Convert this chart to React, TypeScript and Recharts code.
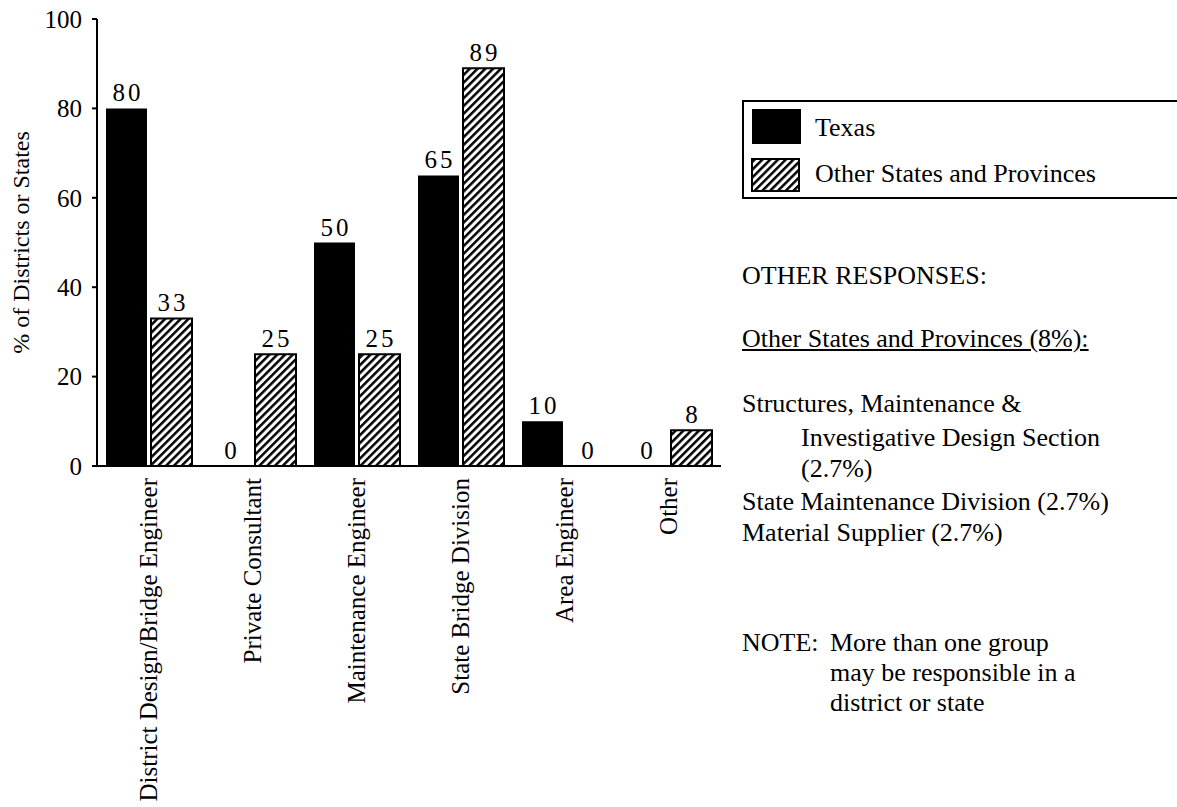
import React from "react";
import { BarChart, Bar, XAxis, YAxis, LabelList } from "recharts";

const categories = [
  "District Design/Bridge Engineer",
  "Private Consultant",
  "Maintenance Engineer",
  "State Bridge Division",
  "Area Engineer",
  "Other",
];
const texas = [80, 0, 50, 65, 10, 0];
const otherStates = [33, 25, 25, 89, 0, 8];
const yTicks = [0, 20, 40, 60, 80, 100];

const seriesNames = ["Texas", "Other States and Provinces"];
const otherResponses = [
  "Structures, Maintenance &",
  "Investigative Design Section",
  "(2.7%)",
  "State Maintenance Division (2.7%)",
  "Material Supplier (2.7%)",
];
const noteLines = ["More than one group", "may be responsible in a", "district or state"];

const serif = '"Liberation Serif", "Times New Roman", serif';

const data = categories.map((name, i) => ({
  name,
  texas: texas[i],
  other: otherStates[i],
}));

function CategoryTick(props: any) {
  const { x, y, payload } = props;
  const ty = y + 4;
  return (
    <text
      x={x}
      y={ty}
      transform={`rotate(-90, ${x}, ${ty})`}
      textAnchor="end"
      dy="0.33em"
      fontFamily={serif}
      fontSize={25}
      fill="#000"
    >
      {payload.value}
    </text>
  );
}

function ValueLabel(props: any) {
  const { x, y, width, height, value } = props;
  const top = Math.min(y, y + (height || 0));
  return (
    <text
      x={x + width / 2 + 1.5}
      y={top - 7}
      textAnchor="middle"
      fontFamily={serif}
      fontSize={25}
      letterSpacing={3}
      fill="#000"
    >
      {value}
    </text>
  );
}

function YTitle(props: any) {
  const { viewBox } = props;
  const cx = viewBox.x + 21;
  const cy = viewBox.y + viewBox.height / 2;
  return (
    <text
      x={cx}
      y={cy}
      transform={`rotate(-90, ${cx}, ${cy})`}
      textAnchor="middle"
      dy="0.35em"
      fontFamily={serif}
      fontSize={24}
      fill="#000"
    >
      % of Districts or States
    </text>
  );
}

function Hatch({ id }: { id: string }) {
  return (
    <pattern id={id} patternUnits="userSpaceOnUse" width="5.5" height="5.5" patternTransform="rotate(45)">
      <rect x="0" y="0" width="5.5" height="5.5" fill="#fff" />
      <rect x="0" y="0" width="2.5" height="5.5" fill="#000" />
    </pattern>
  );
}

const textLine: React.CSSProperties = {
  position: "absolute",
  fontFamily: serif,
  fontSize: 26,
  lineHeight: "31px",
  color: "#000",
  whiteSpace: "nowrap",
};

export default function App() {
  return (
    <div
      style={{
        position: "relative",
        width: 1177,
        height: 807,
        background: "#fff",
        overflow: "hidden",
        fontFamily: serif,
      }}
    >
      <style>{"body{margin:0}"}</style>
      <BarChart
        width={735}
        height={807}
        data={data}
        margin={{ top: 19, right: 14, left: 0, bottom: 0 }}
        barSize={41}
        barGap={4}
      >
        <defs>
          <Hatch id="hatch" />
        </defs>
        <XAxis
          dataKey="name"
          height={341}
          interval={0}
          tickLine={false}
          axisLine={{ stroke: "#000", strokeWidth: 2 }}
          tick={<CategoryTick />}
        />
        <YAxis
          width={97}
          domain={[0, 100]}
          ticks={yTicks}
          interval={0}
          tickSize={5}
          tickMargin={10}
          axisLine={{ stroke: "#000", strokeWidth: 2 }}
          tickLine={{ stroke: "#000", strokeWidth: 2 }}
          tick={{ fontFamily: serif, fontSize: 25, fill: "#000" }}
          label={<YTitle />}
        />
        <Bar dataKey="texas" name={seriesNames[0]} fill="#000" minPointSize={0.01} isAnimationActive={false}>
          <LabelList dataKey="texas" content={<ValueLabel />} />
        </Bar>
        <Bar
          dataKey="other"
          name={seriesNames[1]}
          fill="url(#hatch)"
          stroke="#000"
          strokeWidth={2}
          minPointSize={0.01}
          isAnimationActive={false}
        >
          <LabelList dataKey="other" content={<ValueLabel />} />
        </Bar>
      </BarChart>

      {/* legend box, runs off the right edge like the original */}
      <div
        style={{
          position: "absolute",
          left: 742,
          top: 100,
          width: 460,
          height: 95,
          border: "2px solid #000",
        }}
      >
        <svg width={52} height={90} style={{ position: "absolute", left: 6, top: 6 }}>
          <defs>
            <Hatch id="hatchLegend" />
          </defs>
          <rect x={2} y={1} width={49} height={35} fill="#000" />
          <rect x={2} y={51} width={47} height={32} fill="url(#hatchLegend)" stroke="#000" strokeWidth={2} />
        </svg>
        <div style={{ ...textLine, left: 71, top: 10 }}>{seriesNames[0]}</div>
        <div style={{ ...textLine, left: 71, top: 56 }}>{seriesNames[1]}</div>
      </div>

      <div style={{ ...textLine, left: 742, top: 260 }}>OTHER RESPONSES:</div>
      <div style={{ ...textLine, left: 742, top: 323, textDecoration: "underline" }}>
        Other States and Provinces (8%):
      </div>
      <div style={{ ...textLine, left: 742, top: 388 }}>{otherResponses[0]}</div>
      <div style={{ ...textLine, left: 801, top: 422 }}>{otherResponses[1]}</div>
      <div style={{ ...textLine, left: 801, top: 453 }}>{otherResponses[2]}</div>
      <div style={{ ...textLine, left: 742, top: 486 }}>{otherResponses[3]}</div>
      <div style={{ ...textLine, left: 742, top: 517 }}>{otherResponses[4]}</div>

      <div style={{ ...textLine, left: 742, top: 627 }}>NOTE:</div>
      <div style={{ ...textLine, left: 830, top: 627 }}>{noteLines[0]}</div>
      <div style={{ ...textLine, left: 830, top: 657 }}>{noteLines[1]}</div>
      <div style={{ ...textLine, left: 830, top: 687 }}>{noteLines[2]}</div>
    </div>
  );
}
